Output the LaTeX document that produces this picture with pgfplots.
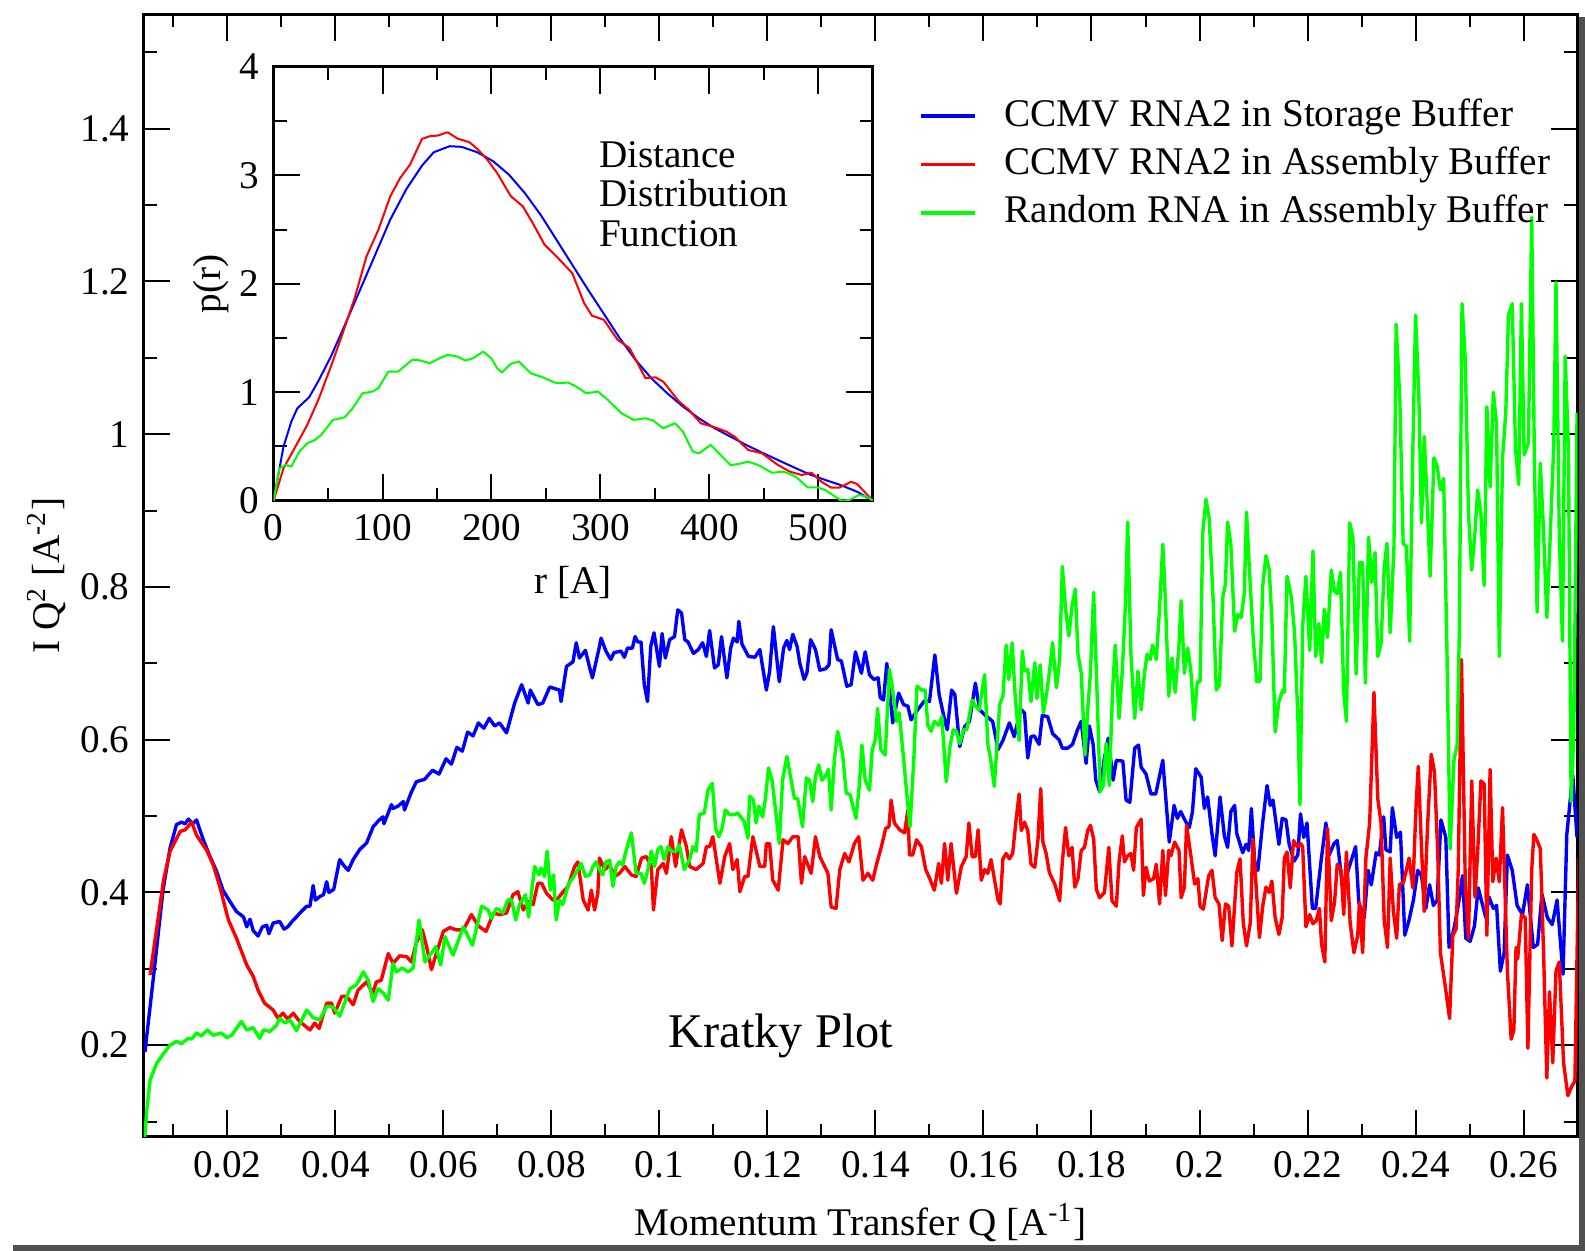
\documentclass[border=0pt]{standalone}
\usepackage{fontspec}
\setmainfont{Liberation Serif}
\usepackage{pgfplots}
\pgfplotsset{compat=1.18}
\definecolor{gblue}{RGB}{0,0,255}
\definecolor{gred}{RGB}{255,0,0}
\definecolor{ggreen}{RGB}{0,255,0}
\definecolor{shadowgray}{RGB}{80,80,80}
\newcommand{\lbl}{\fontsize{9.8pt}{11pt}\selectfont}

\pgfplotsset{
  grace/.style={
    scale only axis, tick align=inside,
    axis line style={line width=0.75pt},
    tick style={black, line width=0.5pt},
    major tick length=6.7pt, minor tick length=3.3pt,
    tick label style={font=\lbl},
    label style={font=\lbl},
    /pgf/number format/assume math mode=true,
  }
}

\begin{document}
\begin{tikzpicture}
% page and drop shadow
\fill[white] (-35.9pt,-28.5pt) rectangle (360.4pt,284.25pt);
\fill[shadowgray] (359pt,-28.5pt) rectangle (360.4pt,280pt);
\fill[shadowgray] (-32.6pt,-28.5pt) rectangle (360.4pt,-27.1pt);

% Kratky plot
\begin{axis}[grace, at={(0pt,0pt)}, anchor=south west,
  width=358.55pt, height=280.7pt,
  xmin=0.0045, xmax=0.27, ymin=0.08, ymax=1.55,
  xtick={0.02,0.04,0.06,0.08,0.1,0.12,0.14,0.16,0.18,0.2,0.22,0.24,0.26},
  xticklabels={0.02,0.04,0.06,0.08,0.1,0.12,0.14,0.16,0.18,0.2,0.22,0.24,0.26},
  minor xtick={0.01,0.03,0.05,0.07,0.09,0.11,0.13,0.15,0.17,0.19,0.21,0.23,0.25},
  ytick={0.2,0.4,0.6,0.8,1,1.2,1.4},
  yticklabels={0.2,0.4,0.6,0.8,1,1.2,1.4},
  minor ytick={0.1,0.3,0.5,0.7,0.9,1.1,1.3,1.5},
  xlabel={Momentum Transfer Q [A\textsuperscript{-1}]},
  ylabel={I Q\textsuperscript{2} [A\textsuperscript{-2}]},
  xlabel style={at={(axis description cs:0.5,-0.0882)}, anchor=base, inner sep=0pt},
  ylabel style={at={(axis description cs:-0.0585,0.5)}, anchor=base, inner sep=0pt},
  legend style={draw=none, fill=none, at={(0.5406,0.9252)}, anchor=north west,
    inner sep=0pt, outer sep=0pt, font=\lbl, row sep=3.1pt,
    nodes={inner sep=0pt, text height=7pt, text depth=2pt},
    /tikz/every odd column/.append style={column sep=7pt}},
  legend cell align=left,
  legend image code/.code={\draw[#1, line width=0.85pt] (0pt,0pt) -- (13.6pt,0pt);},
  every axis plot/.append style={line width=0.85pt, line join=round},
]
\addplot[gblue] coordinates {
(0.00475,0.191)(0.0065,0.30)(0.0081,0.403)(0.0094,0.458)(0.0106,0.489)(0.0115,0.492)(0.0122,0.49)(0.0128,0.496)(0.0136,0.49)(0.0143,0.495)(0.0155,0.47)(0.0168,0.447)(0.018,0.428)(0.0192,0.403)(0.0205,0.388)(0.0217,0.375)(0.023,0.368)(0.0236,0.355)(0.0242,0.365)(0.0248,0.35)(0.0257,0.343)(0.0265,0.355)(0.0273,0.357)(0.0277,0.346)(0.0285,0.36)(0.0297,0.362)(0.0305,0.352)(0.0312,0.355)(0.032,0.362)(0.0328,0.368)(0.0337,0.375)(0.0347,0.382)(0.0353,0.382)(0.0359,0.409)(0.0363,0.39)(0.0372,0.395)(0.0378,0.397)(0.0384,0.414)(0.0388,0.40)(0.0397,0.404)(0.0408,0.443)(0.0416,0.435)(0.0424,0.429)(0.0433,0.443)(0.0445,0.456)(0.0458,0.465)(0.047,0.486)(0.048,0.494)(0.0488,0.499)(0.049,0.49)(0.0504,0.515)(0.0507,0.51)(0.0516,0.513)(0.0526,0.519)(0.0528,0.508)(0.054,0.53)(0.055,0.545)(0.0565,0.548)(0.058,0.56)(0.0592,0.555)(0.0605,0.575)(0.0615,0.568)(0.0625,0.59)(0.0635,0.585)(0.0645,0.61)(0.0655,0.605)(0.0665,0.622)(0.0675,0.615)(0.0685,0.628)(0.0695,0.618)
(0.0704,0.622)(0.0717,0.609)(0.0732,0.648)(0.0745,0.672)(0.0757,0.648)(0.0761,0.665)(0.0775,0.646)(0.0784,0.648)(0.0797,0.669)(0.0815,0.665)(0.0818,0.650)(0.0828,0.696)(0.084,0.702)(0.0846,0.727)(0.0852,0.707)(0.0863,0.717)(0.0871,0.694)(0.0876,0.681)(0.0889,0.722)(0.0892,0.733)(0.0901,0.716)(0.091,0.705)(0.0916,0.714)(0.0929,0.716)(0.0935,0.708)(0.0941,0.72)(0.095,0.72)(0.0955,0.735)(0.096,0.728)(0.0966,0.728)(0.0972,0.672)(0.0978,0.650)(0.0984,0.722)(0.099,0.740)(0.1,0.696)(0.1005,0.739)(0.1011,0.707)(0.1019,0.731)(0.1028,0.735)(0.1034,0.770)(0.1041,0.766)(0.1047,0.731)(0.1053,0.728)(0.1063,0.713)(0.1072,0.718)(0.108,0.727)(0.1087,0.709)(0.1093,0.743)(0.1102,0.694)(0.1109,0.698)(0.1115,0.735)(0.1125,0.681)(0.1132,0.720)(0.1137,0.733)(0.1144,0.728)(0.1147,0.755)(0.1153,0.725)(0.1165,0.709)(0.1177,0.708)(0.1186,0.718)(0.1198,0.665)(0.1204,0.689)(0.1211,0.748)(0.1222,0.676)(0.123,0.720)(0.1236,0.730)(0.1241,0.718)(0.1247,0.738)(0.1255,0.722)(0.126,0.700)(0.1268,0.679)(0.1273,0.687)(0.128,0.731)(0.1289,0.718)(0.1297,0.691)(0.1308,0.693)(0.1314,0.698)(0.1318,0.744)(0.133,0.705)(0.1337,0.703)(0.1347,0.670)(0.1355,0.672)(0.1363,0.715)(0.1374,0.687)(0.1381,0.715)(0.1389,0.685)(0.1397,0.679)(0.1405,0.681)(0.1409,0.655)(0.1415,0.652)(0.1421,0.70)(0.1432,0.622)(0.1443,0.661)(0.1452,0.646)(0.146,0.644)(0.1466,0.626)(0.1478,0.639)(0.1491,0.651)(0.15,0.650)(0.151,0.711)(0.1518,0.659)(0.1528,0.626)(0.1533,0.613)(0.1541,0.665)(0.1547,0.659)(0.1556,0.591)(0.1565,0.617)(0.1574,0.624)(0.1585,0.674)(0.1593,0.639)(0.1605,0.631)(0.1617,0.624)(0.1627,0.587)
(0.1636,0.599)(0.1648,0.622)(0.1657,0.604)(0.1669,0.640)(0.1676,0.635)(0.1682,0.576)(0.1688,0.604)(0.1694,0.605)(0.1703,0.594)(0.1709,0.632)(0.1719,0.630)(0.1728,0.608)(0.174,0.600)(0.1746,0.589)(0.1756,0.589)(0.1765,0.594)(0.1774,0.613)(0.1781,0.624)(0.179,0.569)(0.1796,0.618)(0.1803,0.594)(0.1808,0.547)(0.1815,0.532)(0.1824,0.576)(0.1831,0.602)(0.184,0.547)(0.1846,0.573)(0.1858,0.572)(0.1864,0.521)(0.1871,0.518)(0.188,0.589)(0.1887,0.593)(0.1892,0.564)(0.1901,0.555)(0.191,0.529)(0.1919,0.529)(0.1932,0.573)(0.1944,0.466)(0.1953,0.514)(0.1959,0.497)(0.1965,0.506)(0.1975,0.492)(0.1981,0.485)(0.1987,0.506)(0.1993,0.562)(0.2003,0.551)(0.2009,0.510)(0.2015,0.525)(0.2023,0.477)(0.2029,0.448)(0.2038,0.525)(0.2046,0.474)(0.2052,0.459)(0.2058,0.506)(0.2065,0.514)(0.2069,0.477)(0.208,0.452)(0.2086,0.463)(0.2091,0.455)(0.2096,0.510)(0.2102,0.441)(0.2108,0.429)(0.2117,0.492)(0.2125,0.540)(0.2131,0.514)(0.2136,0.521)(0.2147,0.463)(0.2153,0.497)(0.216,0.495)(0.2166,0.463)
(0.2175,0.441)(0.2182,0.449)(0.2187,0.503)(0.2193,0.472)(0.2199,0.491)(0.2209,0.379)(0.2215,0.379)(0.2225,0.441)(0.2234,0.491)(0.224,0.449)(0.2249,0.464)(0.2255,0.468)(0.2265,0.406)(0.2277,0.433)(0.2289,0.460)(0.2295,0.386)(0.2305,0.367)(0.2312,0.429)(0.2318,0.410)(0.2327,0.452)(0.2333,0.449)(0.2341,0.499)(0.2345,0.456)(0.2353,0.453)(0.2357,0.511)(0.2365,0.472)(0.2372,0.479)(0.238,0.344)(0.2388,0.364)(0.2396,0.390)(0.2404,0.429)(0.2411,0.422)(0.2419,0.379)(0.2426,0.410)(0.2433,0.383)(0.244,0.390)(0.2447,0.495)(0.2456,0.472)(0.2462,0.328)(0.2471,0.352)(0.2479,0.383)(0.2487,0.422)(0.2493,0.340)(0.2501,0.336)(0.2509,0.356)(0.2516,0.406)(0.253,0.367)(0.2536,0.394)(0.2544,0.379)(0.255,0.383)(0.2557,0.297)(0.2564,0.321)(0.257,0.449)(0.2579,0.429)(0.2588,0.383)(0.2598,0.371)(0.2607,0.410)(0.2618,0.328)(0.2626,0.332)(0.2634,0.398)(0.2644,0.367)(0.2653,0.358)(0.2662,0.390)(0.2673,0.293)(0.268,0.476)(0.2691,0.554)(0.2699,0.472)
};
\addlegendentry{CCMV RNA2 in Storage Buffer}
\addplot[gred] coordinates {
(0.0057,0.292)(0.0082,0.416)(0.0094,0.454)(0.0113,0.480)(0.0122,0.482)(0.0134,0.492)(0.0143,0.475)(0.0162,0.455)(0.0174,0.436)(0.0186,0.408)(0.0202,0.364)(0.0217,0.340)(0.0236,0.305)(0.0248,0.290)(0.0257,0.272)(0.0269,0.255)(0.0285,0.246)(0.0294,0.235)(0.0303,0.242)(0.0312,0.234)(0.0322,0.242)(0.0334,0.231)(0.0353,0.220)(0.0362,0.229)(0.037,0.222)(0.0384,0.255)(0.0393,0.255)(0.0399,0.242)(0.0412,0.264)(0.0421,0.264)(0.0433,0.253)(0.0442,0.272)(0.0458,0.283)(0.0469,0.268)(0.0476,0.283)(0.0485,0.285)(0.0498,0.320)(0.0507,0.307)(0.0519,0.317)(0.0532,0.316)(0.0541,0.309)(0.055,0.334)(0.0561,0.351)(0.0569,0.329)(0.0578,0.299)(0.0587,0.320)(0.06,0.349)(0.0612,0.354)(0.0624,0.351)(0.0637,0.351)(0.0652,0.371)(0.0665,0.356)(0.0679,0.349)(0.0693,0.373)
(0.0704,0.371)(0.0717,0.373)(0.0729,0.397)(0.0738,0.401)(0.0748,0.377)(0.0757,0.388)(0.0766,0.384)(0.0775,0.412)(0.0782,0.412)(0.0791,0.399)(0.0803,0.390)(0.0812,0.392)(0.0822,0.401)(0.0831,0.408)(0.0843,0.434)(0.0849,0.440)(0.0859,0.390)(0.0868,0.377)(0.0874,0.403)(0.088,0.377)(0.0886,0.399)(0.0889,0.445)(0.0899,0.430)(0.0908,0.436)(0.0917,0.421)(0.0926,0.425)(0.0936,0.434)(0.0948,0.423)(0.0957,0.421)(0.0967,0.445)(0.0976,0.447)(0.0985,0.434)(0.0989,0.377)(0.0997,0.430)(0.1007,0.438)(0.1013,0.425)(0.1022,0.473)(0.103,0.434)(0.1041,0.482)(0.105,0.460)(0.1056,0.434)(0.1068,0.430)(0.1081,0.438)(0.1087,0.460)(0.1093,0.460)(0.1099,0.473)(0.1112,0.412)(0.1121,0.447)(0.113,0.464)(0.1136,0.430)(0.1144,0.443)(0.1149,0.401)(0.1158,0.421)(0.1164,0.421)(0.1173,0.473)(0.1186,0.434)(0.1195,0.434)(0.1198,0.464)(0.1204,0.464)(0.121,0.416)(0.122,0.403)(0.1229,0.469)(0.1238,0.464)(0.1247,0.473)(0.1257,0.473)(0.1263,0.412)(0.1269,0.447)(0.1281,0.425)(0.1289,0.473)(0.1297,0.447)(0.1312,0.425)(0.1318,0.381)(0.1327,0.379)(0.1334,0.430)(0.1343,0.451)(0.1351,0.440)(0.1361,0.464)(0.1369,0.473)(0.1377,0.416)(0.1386,0.425)(0.1395,0.416)(0.1401,0.434)(0.1411,0.460)(0.1419,0.484)(0.1425,0.486)(0.1429,0.521)(0.1435,0.491)(0.1445,0.482)(0.1454,0.478)(0.146,0.508)(0.1463,0.449)(0.1469,0.449)(0.1476,0.469)(0.1485,0.460)(0.1493,0.430)(0.15,0.419)(0.1509,0.403)(0.1517,0.438)(0.1522,0.412)(0.1528,0.464)(0.1534,0.416)(0.154,0.464)(0.155,0.399)(0.1559,0.434)(0.1568,0.447)(0.1573,0.491)(0.1579,0.447)(0.1585,0.447)(0.159,0.482)(0.1596,0.416)(0.1602,0.430)(0.1608,0.425)(0.1614,0.443)(0.1627,0.390)
(0.1631,0.385)(0.1636,0.444)(0.1642,0.451)(0.1648,0.444)(0.1654,0.451)(0.1661,0.499)(0.1666,0.529)(0.167,0.481)(0.1676,0.492)(0.1682,0.481)(0.1688,0.437)(0.1695,0.433)(0.1701,0.470)(0.1706,0.536)(0.171,0.466)(0.1716,0.451)(0.1722,0.426)(0.1732,0.411)(0.1741,0.389)(0.1746,0.440)(0.1752,0.485)(0.1758,0.448)(0.1764,0.459)(0.1769,0.407)(0.1775,0.418)(0.1781,0.455)(0.1787,0.459)(0.1793,0.481)(0.1798,0.488)(0.1804,0.470)(0.1809,0.404)(0.1815,0.393)(0.1824,0.400)(0.1832,0.459)(0.1838,0.389)(0.1846,0.382)(0.1851,0.440)(0.1857,0.474)(0.1861,0.440)(0.1867,0.448)(0.1873,0.451)(0.1878,0.429)(0.1883,0.485)(0.1892,0.496)(0.1896,0.396)(0.1901,0.433)(0.1907,0.415)(0.1915,0.418)(0.192,0.437)(0.1926,0.385)(0.1932,0.455)(0.1937,0.396)(0.1943,0.455)(0.1947,0.448)(0.1954,0.466)(0.1962,0.455)(0.1966,0.393)(0.1972,0.407)(0.1976,0.488)(0.1984,0.448)(0.1991,0.411)(0.1997,0.418)(0.2001,0.382)(0.2007,0.378)(0.2017,0.422)(0.2023,0.429)(0.2029,0.393)(0.2036,0.385)(0.2042,0.337)(0.2048,0.385)(0.2054,0.382)(0.206,0.330)(0.2069,0.426)(0.2075,0.444)(0.2081,0.360)(0.2087,0.330)(0.2094,0.360)(0.2099,0.470)(0.2111,0.341)(0.2117,0.382)(0.2123,0.407)(0.2129,0.400)(0.2134,0.415)(0.214,0.367)(0.2147,0.345)(0.2153,0.367)
(0.2157,0.445)(0.2162,0.453)(0.2168,0.406)(0.2174,0.468)(0.2181,0.460)(0.2187,0.464)(0.2191,0.460)(0.2197,0.355)(0.2204,0.371)(0.221,0.359)(0.2216,0.363)(0.2222,0.379)(0.2226,0.332)(0.2232,0.309)(0.2237,0.484)(0.2244,0.363)(0.225,0.387)(0.2255,0.437)(0.2262,0.429)(0.2267,0.371)(0.2272,0.453)(0.2279,0.359)(0.2286,0.321)(0.2293,0.344)(0.2296,0.387)(0.2302,0.321)(0.2308,0.445)(0.2315,0.491)(0.2323,0.662)(0.233,0.523)(0.2336,0.491)(0.2342,0.363)(0.2348,0.328)(0.2353,0.445)(0.2359,0.375)(0.2365,0.340)(0.237,0.410)(0.2378,0.414)(0.2388,0.445)(0.2395,0.406)(0.2401,0.515)(0.2405,0.565)(0.241,0.476)(0.2416,0.375)(0.2422,0.484)(0.2429,0.581)(0.2435,0.558)(0.2441,0.453)(0.2446,0.321)(0.2454,0.282)(0.2463,0.235)(0.2469,0.344)(0.2475,0.352)(0.2479,0.429)(0.2485,0.705)(0.2492,0.414)(0.2498,0.340)(0.2504,0.546)(0.251,0.394)(0.2515,0.453)(0.2521,0.546)(0.2527,0.542)(0.2532,0.344)(0.2538,0.561)(0.2543,0.414)(0.2549,0.445)(0.2555,0.414)(0.2561,0.511)(0.257,0.297)(0.2577,0.208)(0.2582,0.220)(0.2586,0.328)(0.2589,0.313)(0.2596,0.371)(0.2603,0.367)(0.2608,0.196)(0.2615,0.429)(0.2619,0.476)(0.2625,0.468)(0.2631,0.457)(0.2637,0.321)(0.2643,0.157)(0.2648,0.270)(0.2654,0.177)(0.266,0.297)(0.2666,0.309)(0.2674,0.177)(0.2682,0.134)(0.2689,0.146)(0.2695,0.153)(0.2702,0.445)
};
\addlegendentry{CCMV RNA2 in Assembly Buffer}
\addplot[ggreen] coordinates {
(0.0047,0.080)(0.0051,0.115)(0.0057,0.154)(0.0069,0.176)(0.0082,0.189)(0.0094,0.200)(0.0106,0.205)(0.0115,0.202)(0.0128,0.209)(0.0134,0.208)(0.0143,0.216)(0.0152,0.212)(0.0163,0.220)(0.0174,0.213)(0.0189,0.216)(0.0199,0.210)(0.0208,0.213)(0.0226,0.231)(0.0236,0.220)(0.0248,0.223)(0.026,0.209)(0.0267,0.220)(0.0279,0.218)(0.0291,0.226)(0.0297,0.235)(0.0307,0.229)(0.0316,0.233)(0.0328,0.219)(0.0347,0.246)(0.0359,0.236)(0.0371,0.233)(0.0384,0.251)(0.0396,0.250)(0.0408,0.238)(0.0427,0.274)(0.0439,0.279)(0.0452,0.296)(0.0461,0.285)(0.047,0.257)(0.0479,0.274)(0.0489,0.268)(0.0498,0.259)(0.0507,0.307)(0.0513,0.296)(0.0524,0.301)(0.0535,0.296)(0.0544,0.301)(0.0555,0.364)(0.0566,0.309)(0.0575,0.318)(0.0586,0.329)(0.0595,0.305)(0.0603,0.342)(0.0618,0.318)(0.0637,0.355)(0.0646,0.342)(0.0654,0.331)(0.0671,0.382)(0.0683,0.377)(0.0689,0.366)(0.0698,0.379)
(0.0704,0.377)(0.0710,0.373)(0.0719,0.390)(0.0726,0.391)(0.0734,0.364)(0.0741,0.384)(0.0752,0.397)(0.0758,0.368)(0.0769,0.434)(0.0777,0.423)(0.0781,0.432)(0.0787,0.421)(0.0792,0.454)(0.0798,0.403)(0.0804,0.423)(0.0809,0.364)(0.0815,0.390)(0.0821,0.384)(0.0832,0.412)(0.0840,0.419)(0.0849,0.430)(0.0855,0.438)(0.0863,0.421)(0.0871,0.423)(0.0877,0.434)(0.0883,0.440)(0.0889,0.430)(0.0895,0.423)(0.0901,0.440)(0.0908,0.442)(0.0914,0.408)(0.0920,0.434)(0.0926,0.440)(0.0932,0.436)(0.0938,0.454)(0.0948,0.478)(0.0957,0.425)(0.0966,0.425)(0.0972,0.412)(0.0979,0.430)(0.0985,0.454)(0.0991,0.434)(0.0997,0.456)(0.1003,0.460)(0.1009,0.443)(0.1016,0.460)(0.1022,0.454)(0.1031,0.454)(0.1037,0.462)(0.1046,0.430)(0.1056,0.443)(0.1062,0.460)(0.1068,0.454)(0.1074,0.502)(0.1083,0.504)(0.1090,0.534)(0.1098,0.543)(0.1104,0.484)(0.1110,0.473)(0.1116,0.484)(0.1122,0.508)(0.1130,0.502)(0.1139,0.502)(0.1145,0.504)(0.1157,0.493)(0.1164,0.471)(0.1167,0.526)(0.1174,0.521)(0.1179,0.491)(0.1184,0.513)(0.1191,0.499)(0.1196,0.521)(0.1202,0.563)(0.1209,0.545)(0.1216,0.502)(0.1222,0.464)(0.1228,0.547)(0.1236,0.578)(0.1244,0.547)(0.1250,0.523)(0.1256,0.523)(0.1265,0.486)(0.1272,0.550)(0.1278,0.547)(0.1284,0.519)(0.1289,0.552)(0.1295,0.567)(0.1301,0.547)(0.1307,0.552)(0.1313,0.561)(0.1318,0.508)(0.1324,0.574)(0.1330,0.611)(0.1339,0.582)(0.1346,0.530)(0.1353,0.528)(0.1364,0.497)(0.1370,0.539)(0.1375,0.593)(0.1381,0.547)(0.1389,0.534)(0.1394,0.587)(0.1400,0.600)(0.1404,0.641)(0.1410,0.587)(0.1418,0.580)(0.1426,0.692)(0.1432,0.665)(0.1439,0.624)(0.1444,0.635)(0.1450,0.591)(0.1458,0.530)(0.1464,0.486)(0.1471,0.574)(0.1477,0.670)(0.1486,0.665)(0.1492,0.665)(0.1497,0.619)(0.1503,0.611)(0.1509,0.624)(0.1517,0.619)(0.1523,0.630)(0.1531,0.545)(0.1538,0.591)(0.1544,0.613)(0.1550,0.611)(0.1556,0.595)(0.1563,0.613)(0.1569,0.613)(0.1579,0.652)(0.1585,0.644)(0.1592,0.639)(0.1602,0.685)(0.1608,0.595)(0.1614,0.571)(0.1620,0.539)
(0.1630,0.646)(0.1636,0.657)(0.1642,0.724)(0.1647,0.679)(0.1653,0.727)(0.1659,0.654)(0.1666,0.599)(0.1672,0.716)(0.1676,0.690)(0.1682,0.692)(0.1688,0.650)(0.1695,0.701)(0.1699,0.654)(0.1705,0.698)(0.1711,0.635)(0.1717,0.661)(0.1723,0.694)(0.1728,0.727)(0.1735,0.668)(0.1741,0.705)(0.1746,0.827)(0.1752,0.771)(0.1758,0.736)(0.1764,0.775)(0.1770,0.797)(0.1775,0.712)(0.1781,0.687)(0.1788,0.580)(0.1793,0.639)(0.1798,0.687)(0.1804,0.793)(0.1810,0.668)(0.1816,0.532)(0.1822,0.540)(0.1827,0.595)(0.1833,0.540)(0.1839,0.665)(0.1844,0.724)(0.1851,0.628)(0.1857,0.690)(0.1863,0.779)(0.1867,0.885)(0.1873,0.712)(0.1880,0.628)(0.1886,0.690)(0.1892,0.639)(0.1898,0.687)(0.1903,0.712)(0.1909,0.705)(0.1913,0.724)(0.1920,0.705)(0.1926,0.771)(0.1932,0.856)(0.1937,0.779)(0.1943,0.657)(0.1949,0.707)(0.1955,0.662)(0.1962,0.724)(0.1966,0.782)(0.1972,0.687)(0.1978,0.720)(0.1984,0.690)(0.1990,0.626)(0.1996,0.676)(0.2001,0.676)(0.2006,0.871)(0.2012,0.915)(0.2018,0.889)(0.2025,0.786)(0.2031,0.665)(0.2037,0.672)(0.2043,0.786)(0.2048,0.804)(0.2052,0.885)(0.2058,0.856)(0.2065,0.742)(0.2071,0.764)(0.2077,0.760)(0.2083,0.792)(0.2087,0.898)(0.2094,0.801)(0.2100,0.727)(0.2106,0.676)(0.2112,0.677)(0.2117,0.801)(0.2123,0.841)(0.2129,0.823)(0.2134,0.757)(0.2140,0.610)(0.2147,0.650)(0.2154,0.665)
(0.2157,0.662)(0.2162,0.814)(0.2170,0.787)(0.2176,0.740)(0.2182,0.631)(0.2186,0.515)(0.2191,0.748)(0.2197,0.814)(0.2204,0.717)(0.2210,0.847)(0.2215,0.709)(0.2221,0.752)(0.2226,0.701)(0.2231,0.771)(0.2237,0.734)(0.2244,0.822)(0.2250,0.795)(0.2255,0.791)(0.2261,0.819)(0.2267,0.662)(0.2272,0.624)(0.2278,0.884)(0.2284,0.865)(0.2290,0.686)(0.2296,0.832)(0.2302,0.832)(0.2307,0.674)(0.2313,0.865)(0.2319,0.806)(0.2325,0.845)(0.2330,0.709)(0.2336,0.725)(0.2342,0.826)(0.2347,0.857)(0.2353,0.740)(0.2360,0.853)(0.2364,1.144)(0.2371,1.043)(0.2377,0.857)(0.2383,0.853)(0.2389,0.729)(0.2395,0.981)(0.2400,1.156)(0.2406,1.051)(0.2411,0.884)(0.2416,0.997)(0.2422,0.903)(0.2427,0.814)(0.2434,0.969)(0.2440,0.958)(0.2446,0.927)(0.2452,0.942)(0.2458,0.721)(0.2464,0.457)(0.2471,0.573)(0.2477,0.593)(0.2481,0.740)(0.2486,1.171)(0.2492,1.098)(0.2498,0.896)(0.2504,0.822)(0.2510,0.872)(0.2515,0.927)(0.2521,0.896)(0.2527,0.802)(0.2532,1.036)(0.2538,0.931)(0.2544,1.055)(0.2550,1.012)(0.2555,0.709)(0.2561,0.969)(0.2567,1.028)(0.2572,1.156)(0.2579,1.171)(0.2585,0.981)(0.2591,0.934)(0.2596,1.171)(0.2601,0.973)(0.2609,0.989)(0.2615,1.284)(0.2620,0.966)(0.2625,0.767)(0.2631,0.962)(0.2637,0.872)(0.2643,0.760)(0.2649,0.861)(0.2656,0.989)(0.2660,1.199)(0.2666,0.872)(0.2672,0.729)(0.2677,1.102)(0.2683,0.981)(0.2688,0.519)(0.2693,0.608)(0.2699,1.028)
};
\addlegendentry{Random RNA in Assembly Buffer}
\node[anchor=base, font=\fontsize{12.1pt}{14pt}\selectfont] at (axis cs:0.1225,0.1976) {Kratky Plot};
\end{axis}

% inset: distance distribution
\begin{axis}[grace, at={(32.5pt,159.05pt)}, anchor=south west,
  width=149.85pt, height=108.5pt,
  xmin=0, xmax=550, ymin=0, ymax=4,
  xtick={0,100,200,300,400,500}, minor xtick={50,150,250,350,450,550},
  ytick={0,1,2,3,4}, minor ytick={0.5,1.5,2.5,3.5},
  axis background/.style={fill=white},
  xlabel={r [A]}, ylabel={p(r)},
  xlabel style={at={(axis description cs:0.5,-0.2147)}, anchor=base, inner sep=0pt},
  ylabel style={at={(axis description cs:-0.0893,0.5)}, anchor=base, inner sep=0pt},
  every axis plot/.append style={line width=0.5pt, line join=round},
]
\addplot[gblue] coordinates {
(0,0)(9.1,0.498)(16.3,0.729)(21.8,0.852)(32.7,0.954)(41.7,1.114)(52.6,1.329)(63.5,1.575)(78.1,1.914)(92.6,2.252)(107.1,2.591)(121.6,2.868)(136.2,3.089)(147.0,3.212)(161.6,3.268)(172.5,3.262)(187.0,3.212)(201.5,3.129)(216.0,3.006)(230.5,2.837)(245.0,2.637)(259.6,2.406)(274.1,2.175)(288.6,1.945)(303.1,1.723)(317.7,1.498)(332.2,1.298)(346.7,1.129)(361.2,0.991)(375.7,0.868)(390.3,0.760)(404.8,0.668)(419.3,0.591)(433.8,0.514)(448.3,0.443)(462.9,0.375)(477.4,0.308)(491.9,0.243)(506.4,0.191)(521.0,0.142)(535.5,0.083)(550,0)
};
\addplot[gred] coordinates {
(0,0)(9.1,0.298)(20.0,0.498)(30.9,0.698)(41.7,0.945)(52.6,1.237)(63.5,1.545)(74.4,1.868)(85.3,2.252)(96.2,2.498)(107.1,2.806)(116.2,2.975)(125.2,3.098)(136.2,3.335)(143.4,3.360)(150.7,3.366)(159.7,3.397)(168.8,3.338)(179.7,3.305)(187.0,3.243)(196.0,3.145)(205.1,3.022)(217.8,2.806)(228.7,2.714)(237.8,2.560)(248.7,2.360)(259.6,2.252)(274.1,2.098)(285.0,1.822)(292.3,1.705)(303.1,1.668)(315.8,1.483)(326.7,1.406)(341.3,1.129)(350.3,1.138)(357.6,1.098)(372.1,0.914)(381.2,0.837)(392.1,0.714)(403.0,0.683)(415.7,0.637)(423.0,0.591)(435.6,0.468)(448.3,0.437)(462.9,0.329)(473.8,0.268)(484.7,0.237)(493.7,0.258)(502.8,0.175)(511.9,0.120)(519.1,0.120)(530.0,0.175)(535.5,0.154)(550,0)
};
\addplot[ggreen] coordinates {
(0,0)(5.4,0.298)(10.9,0.329)(16.3,0.314)(23.6,0.452)(30.9,0.529)(38.1,0.560)(43.6,0.606)(54.5,0.745)(65.3,0.769)(72.6,0.852)(81.7,0.991)(90.8,1.006)(96.2,1.037)(105.3,1.191)(114.4,1.191)(127.1,1.298)(132.5,1.298)(143.4,1.268)(152.5,1.314)(159.7,1.345)(168.8,1.329)(176.1,1.292)(183.3,1.314)(192.4,1.375)(199.7,1.314)(205.1,1.222)(209.5,1.182)(217.8,1.262)(225.1,1.283)(236.0,1.175)(246.9,1.138)(259.6,1.083)(270.5,1.089)(277.7,1.052)(286.8,0.991)(297.7,1.006)(306.8,0.929)(319.4,0.806)(330.3,0.745)(341.3,0.760)(348.5,0.738)(357.6,0.668)(368.5,0.714)(375.7,0.637)(384.8,0.452)(390.3,0.437)(401.2,0.514)(410.2,0.422)(419.3,0.329)(426.6,0.338)(435.6,0.360)(444.7,0.329)(457.4,0.258)(468.3,0.268)(479.2,0.222)(490.1,0.123)(499.2,0.123)(506.4,0.098)(521.0,0)(528.2,0.006)(537.3,0.052)(544.6,0.037)(550,0)
};
\node[anchor=west, align=left, inner sep=0pt, font=\fontsize{9.8pt}{9.85pt}\selectfont] at (axis cs:298,2.827) {Distance\\Distribution\\Function};
\end{axis}
\pgfresetboundingbox
\useasboundingbox (-35.9pt,-28.5pt) rectangle (360.4pt,284.25pt);
\end{tikzpicture}
\end{document}
